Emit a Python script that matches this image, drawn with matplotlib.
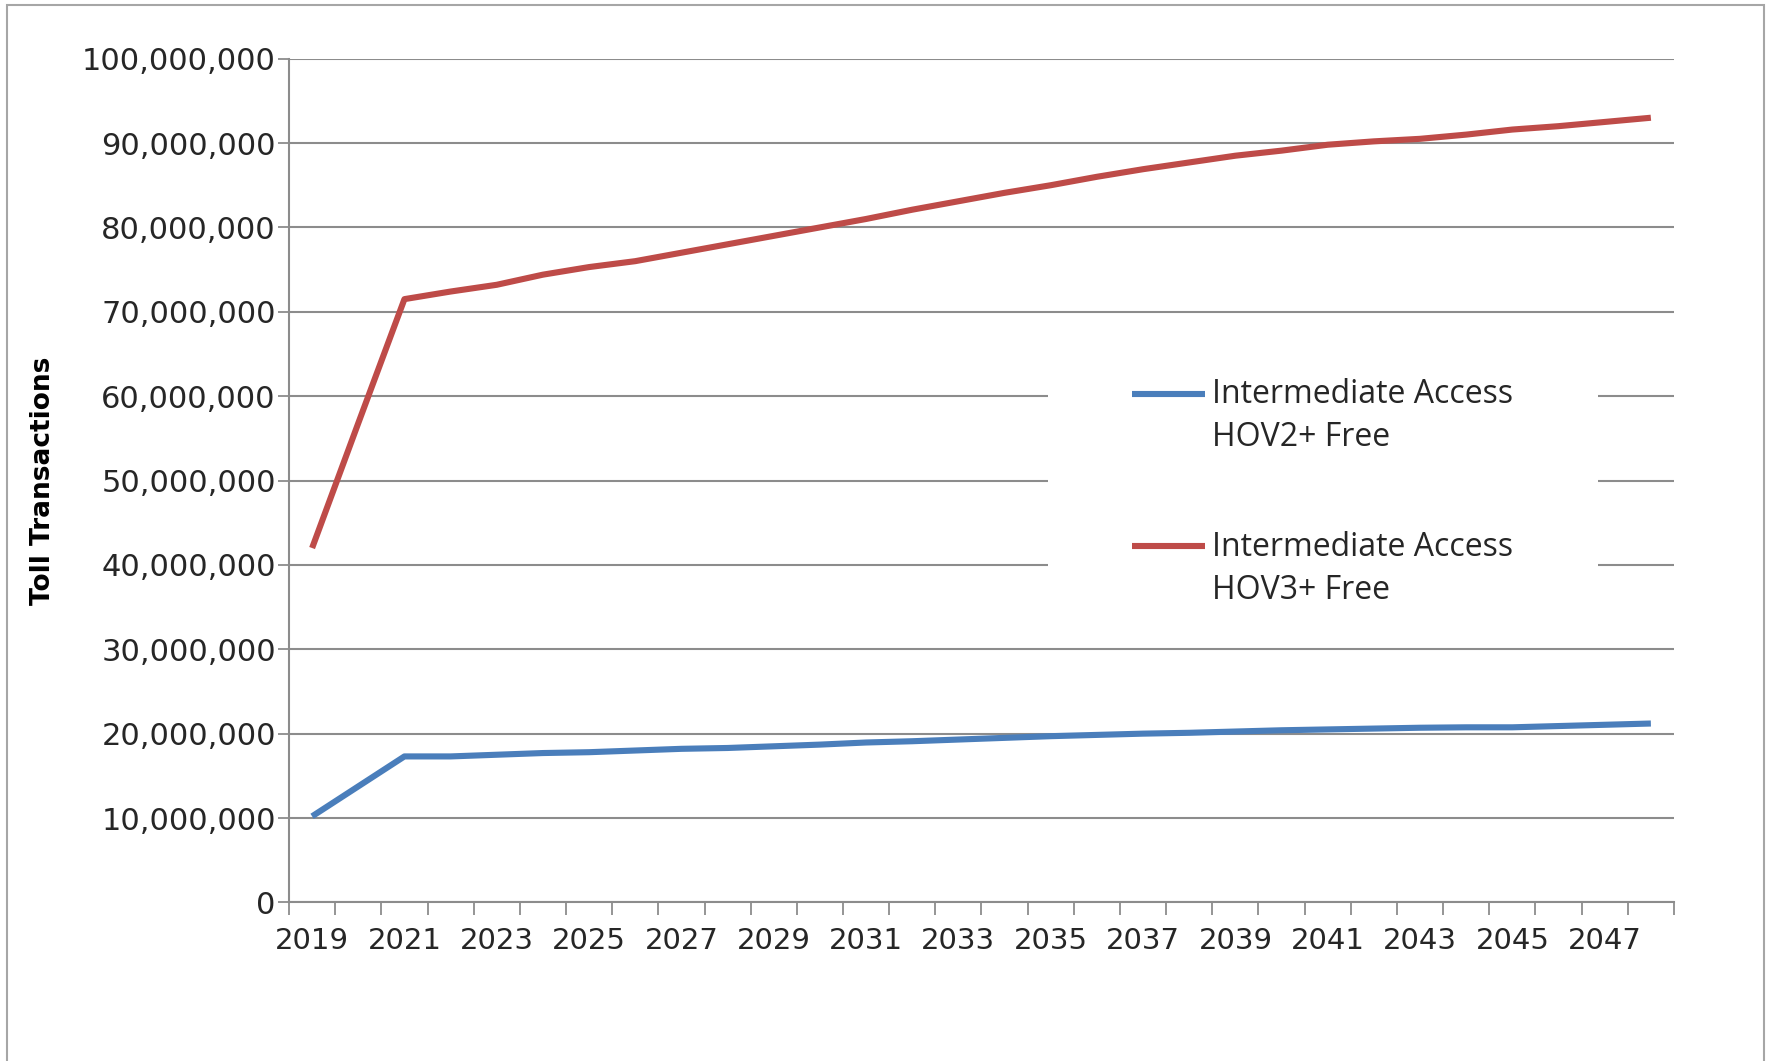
import matplotlib
matplotlib.use('Agg')
import matplotlib.pyplot as plt
from matplotlib.patches import Rectangle
from matplotlib.ticker import FuncFormatter, FixedLocator
from matplotlib.legend_handler import HandlerLine2D

#------------------------------ data
years = list(range(2019, 2049))
hov2 = [10.2, 13.75, 17.3, 17.3, 17.5, 17.7, 17.8, 18.0, 18.2, 18.3,
        18.5, 18.7, 18.95, 19.1, 19.3, 19.5, 19.7, 19.85, 20.0, 20.1,
        20.25, 20.4, 20.5, 20.6, 20.7, 20.75, 20.75, 20.9, 21.05, 21.2]
hov3 = [42.0, 56.8, 71.5, 72.4, 73.2, 74.4, 75.3, 76.0, 77.0, 78.0,
        79.0, 80.0, 81.0, 82.1, 83.1, 84.1, 85.0, 86.0, 86.9, 87.7,
        88.5, 89.1, 89.8, 90.2, 90.5, 91.0, 91.6, 92.0, 92.5, 93.0]
hov2 = [v * 1e6 for v in hov2]
hov3 = [v * 1e6 for v in hov3]
lab2 = 'Intermediate Access\nHOV2+ Free'
lab3 = 'Intermediate Access\nHOV3+ Free'
ylabel = 'Toll Transactions'
#------------------------------


class TopLine(HandlerLine2D):
    # legend line sits next to the first text line (Excel style)
    def create_artists(self, legend, orig_handle, xdescent, ydescent,
                       width, height, fontsize, trans):
        arts = super().create_artists(legend, orig_handle, xdescent, ydescent,
                                      width, height, fontsize, trans)
        for a in arts:
            a.set_ydata([v + 0.75 * fontsize for v in a.get_ydata()])
        return arts


grid_c = '#8c8c8c'
txt_c = '#262626'
fig = plt.figure(figsize=(17.71, 10.61), dpi=100)
ax = fig.add_axes([0.1632, 0.1495, 0.7820, 0.7952])

# outer chart border
fig.patches.append(Rectangle((0.004, -0.05), 0.992, 1.045, transform=fig.transFigure,
                             fill=False, edgecolor='#a6a6a6', linewidth=1.5))

l2, = ax.plot(years, hov2, '-', color='#4a7ebb', lw=4.4, label=lab2, solid_capstyle='butt', zorder=3)
l3, = ax.plot(years, hov3, '-', color='#be4b48', lw=4.4, label=lab3, solid_capstyle='butt', zorder=3)

ax.set_xlim(2018.5, 2048.5)
ax.set_ylim(0, 100e6)
ax.set_yticks([i * 10e6 for i in range(11)])
ax.yaxis.set_major_formatter(FuncFormatter(lambda v, p: '{:,.0f}'.format(v)))
ax.set_xticks(years[::2])
ax.xaxis.set_minor_locator(FixedLocator([2018.5 + k for k in range(31)]))
ax.tick_params(axis='x', which='major', length=0, pad=17.5, labelsize=21, labelcolor=txt_c)
ax.tick_params(axis='x', which='minor', length=9, width=1.3, color=grid_c, direction='out')
ax.tick_params(axis='y', length=8, width=1.3, color=grid_c, pad=1.5, labelsize=22, labelcolor=txt_c)

ax.grid(axis='y', color=grid_c, lw=1.5)
ax.set_axisbelow(True)
for s in ['top', 'right']:
    ax.spines[s].set_visible(False)
for s in ['left', 'bottom']:
    ax.spines[s].set_color(grid_c)
    ax.spines[s].set_linewidth(1.5)

ax.set_ylabel(ylabel, fontsize=19, fontweight='bold', family='DejaVu Sans Condensed')
ax.yaxis.set_label_coords(-0.168, 0.50)

# white block behind the legend (breaks the gridlines like the original)
ax.add_patch(Rectangle((0.548, 0.37), 0.397, 0.29, transform=ax.transAxes,
                       facecolor='white', edgecolor='none', zorder=2))
leg = ax.legend(handles=[l2, l3], loc='upper left', bbox_to_anchor=(0.597, 0.64), frameon=False,
                handlelength=2.3, handletextpad=0.2, labelspacing=2.4, borderpad=0,
                prop={'family': 'Open Sans', 'size': 23},
                handler_map={l2: TopLine(), l3: TopLine()})
for t in leg.get_texts():
    t.set_color(txt_c)
    t.set_linespacing(1.4)

fig.savefig('out.png', dpi=100)
